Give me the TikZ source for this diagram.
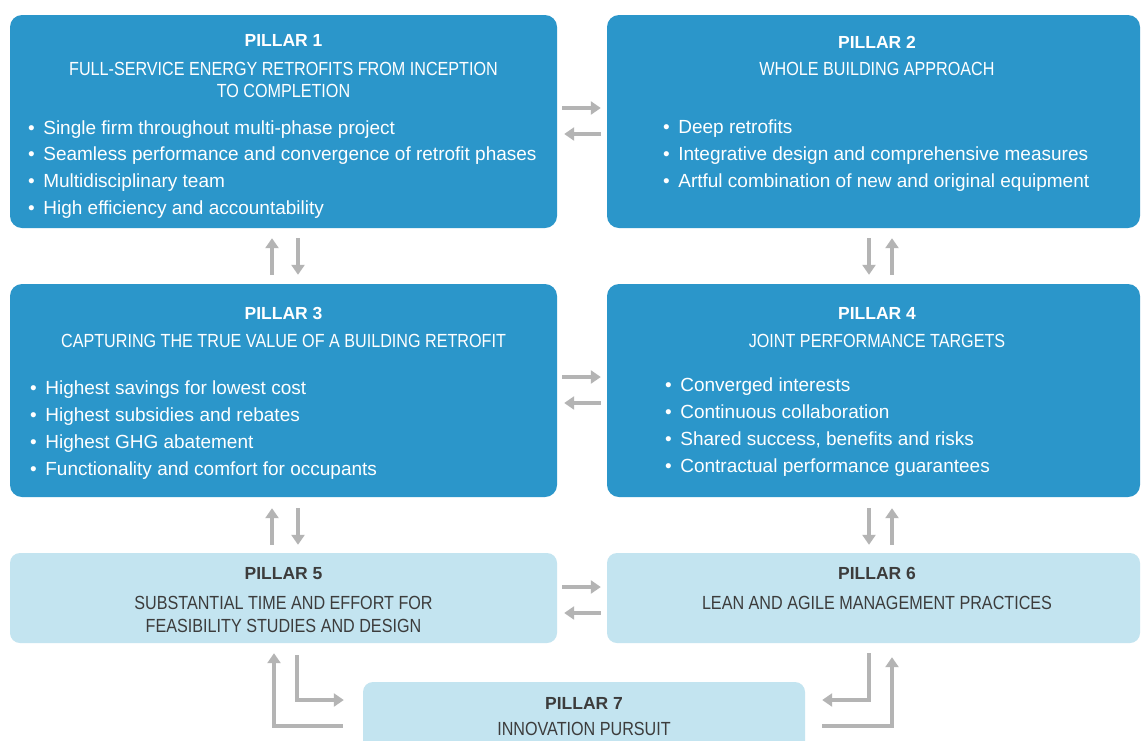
\documentclass[tikz,border=0pt]{standalone}
\usepackage{fontspec}
\setmainfont{Liberation Sans}
\newfontfamily\condfont[FakeStretch=0.85]{Liberation Sans}
\usetikzlibrary{arrows.meta,calc}
\definecolor{pdark}{HTML}{2B96CA}
\definecolor{plight}{HTML}{C3E4F0}
\definecolor{ptext}{HTML}{3C3C3C}
\definecolor{parrow}{HTML}{B4B4B4}
\newcommand{\pbul}[1]{\textbullet\hspace{8.5pt}#1}
\begin{document}
\begin{tikzpicture}[x=1pt,y=-1pt,
  darkbox/.style={fill=pdark, draw=none, rounded corners=12pt, inner sep=0pt},
  lightbox/.style={fill=plight, draw=none, rounded corners=10pt, inner sep=0pt},
  ttl/.style={anchor=base, inner sep=0pt, font=\bfseries\fontsize{17.5}{20}\selectfont},
  head/.style={anchor=base, inner sep=0pt, font=\condfont\fontsize{19}{22}\selectfont},
  bul/.style={anchor=base west, inner sep=0pt, font=\fontsize{19}{22}\selectfont, text=white},
  ondark/.style={text=white},
  onlight/.style={text=ptext},
  arr/.style={draw=parrow, line width=4.2pt, -{Triangle[length=10pt,width=13pt]}}
]
\useasboundingbox (0,0) rectangle (1145,740);
\clip (0,0) rectangle (1145,740);
\fill[white] (0,0) rectangle (1145,740);

% boxes
\node[darkbox, minimum width=547pt, minimum height=213pt] (p1) at (283.5,121.5) {};
\node[darkbox, minimum width=533pt, minimum height=213pt] (p2) at (873.5,121.5) {};
\node[darkbox, minimum width=547pt, minimum height=213pt] (p3) at (283.5,390.5) {};
\node[darkbox, minimum width=533pt, minimum height=213pt] (p4) at (873.5,390.5) {};
\node[lightbox, minimum width=547pt, minimum height=90pt] (p5) at (283.5,598) {};
\node[lightbox, minimum width=533pt, minimum height=90pt] (p6) at (873.5,598) {};
\node[lightbox, minimum width=442pt, minimum height=80pt] (p7) at (584,722) {};

% pillar 1
\node[ttl, ondark] (p1t) at (283.5,46.5) {PILLAR 1};
\node[head, ondark] (p1h1) at (283.5,75) {FULL-SERVICE ENERGY RETROFITS FROM INCEPTION};
\node[head, ondark] (p1h2) at (283.5,97) {TO COMPLETION};
\foreach \t [count=\i] in {{Single firm throughout multi-phase project},{Seamless performance and convergence of retrofit phases},{Multidisciplinary team},{High efficiency and accountability}}
  \node[bul] (p1b\i) at (28,{134+26.7*(\i-1)}) {\pbul{\t}};

% pillar 2
\node[ttl, ondark] (p2t) at (877,48.5) {PILLAR 2};
\node[head, ondark] (p2h1) at (877,75) {WHOLE BUILDING APPROACH};
\foreach \t [count=\i] in {{Deep retrofits},{Integrative design and comprehensive measures},{Artful combination of new and original equipment}}
  \node[bul] (p2b\i) at (663,{133+27*(\i-1)}) {\pbul{\t}};

% pillar 3
\node[ttl, ondark] (p3t) at (283.5,319.5) {PILLAR 3};
\node[head, ondark] (p3h1) at (283.5,347) {CAPTURING THE TRUE VALUE OF A BUILDING RETROFIT};
\foreach \t [count=\i] in {{Highest savings for lowest cost},{Highest subsidies and rebates},{Highest GHG abatement},{Functionality and comfort for occupants}}
  \node[bul] (p3b\i) at (30,{394+27*(\i-1)}) {\pbul{\t}};

% pillar 4
\node[ttl, ondark] (p4t) at (877,319.5) {PILLAR 4};
\node[head, ondark] (p4h1) at (877,347) {JOINT PERFORMANCE TARGETS};
\foreach \t [count=\i] in {{Converged interests},{Continuous collaboration},{Shared success, benefits and risks},{Contractual performance guarantees}}
  \node[bul] (p4b\i) at (665,{391+27.3*(\i-1)}) {\pbul{\t}};

% pillar 5
\node[ttl, onlight] (p5t) at (283.5,579.5) {PILLAR 5};
\node[head, onlight] (p5h1) at (283.5,609) {SUBSTANTIAL TIME AND EFFORT FOR};
\node[head, onlight] (p5h2) at (283.5,632) {FEASIBILITY STUDIES AND DESIGN};

% pillar 6
\node[ttl, onlight] (p6t) at (877,579.5) {PILLAR 6};
\node[head, onlight] (p6h1) at (877,609) {LEAN AND AGILE MANAGEMENT PRACTICES};

% pillar 7
\node[ttl, onlight] (p7t) at (584,709.5) {PILLAR 7};
\node[head, onlight] (p7h1) at (584,735) {INNOVATION PURSUIT};

% horizontal arrows
\draw[arr] ($(p1.east)+(5,-13.5)$) -- ($(p2.west)+(-6,-13.5)$);
\draw[arr] ($(p2.west)+(-6,12.5)$) -- ($(p1.east)+(7,12.5)$);
\draw[arr] ($(p3.east)+(5,-13.5)$) -- ($(p4.west)+(-6,-13.5)$);
\draw[arr] ($(p4.west)+(-6,12.5)$) -- ($(p3.east)+(7,12.5)$);
\draw[arr] ($(p5.east)+(5,-11)$) -- ($(p6.west)+(-6,-11)$);
\draw[arr] ($(p6.west)+(-6,15)$) -- ($(p5.east)+(7,15)$);

% vertical arrows left column
\draw[arr] ($(p3.north)+(-11.5,-9)$) -- ($(p1.south)+(-11.5,10)$);
\draw[arr] ($(p1.south)+(14.5,10)$) -- ($(p3.north)+(14.5,-9)$);
\draw[arr] ($(p5.north)+(-11.5,-8)$) -- ($(p3.south)+(-11.5,11)$);
\draw[arr] ($(p3.south)+(14.5,11)$) -- ($(p5.north)+(14.5,-8)$);

% vertical arrows right column
\draw[arr] ($(p2.south)+(-4.5,10)$) -- ($(p4.north)+(-4.5,-9)$);
\draw[arr] ($(p4.north)+(18.5,-9)$) -- ($(p2.south)+(18.5,10)$);
\draw[arr] ($(p4.south)+(-4.5,11)$) -- ($(p6.north)+(-4.5,-8)$);
\draw[arr] ($(p6.north)+(18.5,-8)$) -- ($(p4.south)+(18.5,11)$);

% elbow arrows to/from pillar 7
\draw[arr] ($(p5.south)+(13.5,12)$) |- ($(p7.west)+(-19,-22)$);
\draw[arr] ($(p7.west)+(-20,4)$) -| ($(p5.south)+(-9.5,10)$);
\draw[arr] ($(p6.south)+(-4.5,10)$) |- ($(p7.east)+(17,-22)$);
\draw[arr] ($(p7.east)+(17,4)$) -| ($(p6.south)+(18.5,14)$);
\end{tikzpicture}
\end{document}
